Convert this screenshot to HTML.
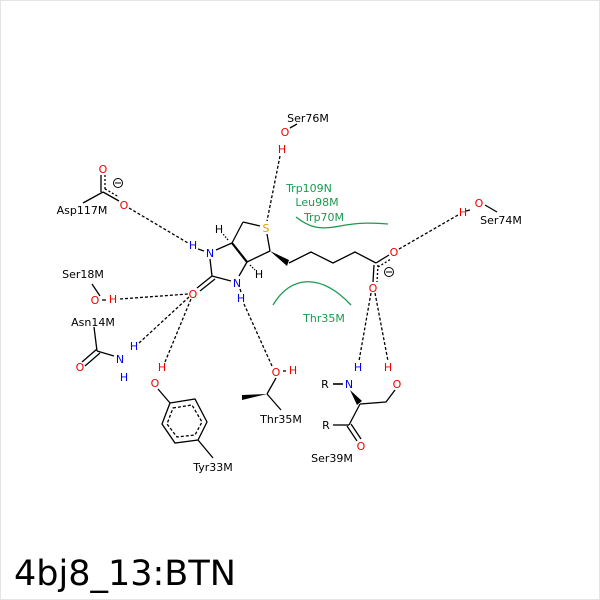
<!DOCTYPE html>
<html><head><style>
body{margin:0;background:#fff;}
svg{display:block;}
text{font-family:"DejaVu Sans","Liberation Sans",sans-serif;font-size:11px;}
</style></head><body>
<svg width="600" height="600" viewBox="0 0 600 600">
<rect x="0.5" y="0.5" width="599" height="599" fill="#fff" stroke="#e4e4e4"/>
<g stroke="#000" stroke-width="1.3" fill="none">
<g stroke-dasharray="3,2">
<line x1="280" y1="156" x2="267" y2="221"/>
<line x1="129" y1="208" x2="188" y2="243"/>
<line x1="120" y1="299" x2="188" y2="294"/>
<line x1="139" y1="343" x2="189" y2="297"/>
<line x1="165" y1="362" x2="191" y2="299"/>
<line x1="244" y1="304" x2="272" y2="366"/>
<line x1="399" y1="249" x2="458" y2="215"/>
<line x1="371" y1="293" x2="359" y2="361"/>
<line x1="375" y1="293" x2="388" y2="361"/>
</g>
<line x1="297" y1="124" x2="290" y2="128"/>
<line x1="83" y1="203" x2="103" y2="192"/>
<line x1="101" y1="175" x2="101" y2="192"/>
<line x1="105" y1="175" x2="105" y2="190" stroke-dasharray="2,2"/>
<line x1="103" y1="192" x2="119" y2="201"/>
<line x1="105" y1="189" x2="119" y2="197" stroke-dasharray="2,2"/>
<line x1="198" y1="249" x2="204" y2="251"/>
<line x1="216" y1="250" x2="232" y2="243"/>
<line x1="232" y1="243" x2="243" y2="222"/>
<line x1="243" y1="222" x2="260" y2="226"/>
<line x1="267" y1="234" x2="270" y2="251"/>
<line x1="270" y1="251" x2="247" y2="262"/>
<line x1="232" y1="243" x2="247" y2="262" stroke-width="2.2"/>
<line x1="247" y1="262" x2="239" y2="276"/>
<line x1="231" y1="281" x2="212" y2="276"/>
<line x1="212" y1="276" x2="210" y2="259"/>
<line x1="212" y1="276" x2="197" y2="288"/>
<line x1="215" y1="279" x2="200" y2="291"/>
<line x1="240" y1="289" x2="241" y2="292"/>
<line x1="228" y1="240" x2="223" y2="234" stroke-dasharray="1.5,1.5"/>
<line x1="250" y1="265" x2="255" y2="270" stroke-dasharray="1.5,1.5"/>
<polyline points="289,263 311,252 333,263 355,252 376,263"/>
<line x1="376" y1="263" x2="389" y2="255"/>
<line x1="378" y1="267" x2="391" y2="259" stroke-dasharray="2,2"/>
<line x1="374" y1="265" x2="373" y2="282"/>
<line x1="378" y1="265" x2="377" y2="282" stroke-dasharray="2,2"/>
<line x1="485" y1="205" x2="497" y2="212"/>
<line x1="466" y1="211" x2="470" y2="210"/>
<line x1="92" y1="284" x2="100" y2="296"/>
<line x1="102" y1="300" x2="106" y2="300"/>
<line x1="94" y1="327" x2="97" y2="351"/>
<line x1="97" y1="351" x2="114" y2="356"/>
<line x1="97" y1="349" x2="82" y2="362"/>
<line x1="100" y1="353" x2="85" y2="366"/>
<line x1="158" y1="389" x2="170" y2="403"/>
<polygon points="170,403 195,399 207,422 198,440 175,443 162,424"/>
<polygon points="173,408 192,405 202,422 195,435 177,437 167,424" stroke-dasharray="3,2"/>
<line x1="198" y1="440" x2="213" y2="458"/>
<line x1="276" y1="378" x2="267" y2="394"/>
<line x1="267" y1="394" x2="281" y2="410"/>
<line x1="283" y1="371" x2="286" y2="371"/>
<line x1="333" y1="384" x2="343" y2="384" stroke-width="1.6"/>
<polyline points="360,404 386,402 395,390"/>
<line x1="360" y1="404" x2="349" y2="425"/>
<line x1="333" y1="425" x2="349" y2="425"/>
<line x1="347" y1="426" x2="357" y2="441"/>
<line x1="351" y1="424" x2="361" y2="439"/>
<circle cx="118" cy="183" r="4.5" stroke-width="1"/>
<line x1="115" y1="183" x2="121" y2="183" stroke-width="1"/>
<circle cx="389" cy="272" r="4.5" stroke-width="1"/>
<line x1="386" y1="272" x2="392" y2="272" stroke-width="1"/>
<path d="M296,217 C310,228 320,230 340,226 C360,222 375,223 388,224" stroke="#1a9a50"/>
<path d="M273,305 C290,276 320,272 351,305" stroke="#1a9a50"/>
</g>
<polygon points="270,251 289,260 287,266" fill="#000"/>
<polygon points="350,390 362,401 357,405" fill="#000"/>
<polygon points="267,394 242,395 242,400" fill="#000"/>
<g text-anchor="middle">
<text x="308" y="122">Ser76M</text>
<text x="285" y="136" fill="#e00">O</text>
<text x="282" y="153" fill="#e00">H</text>
<text x="266" y="232" fill="#e0a000">S</text>
<text x="103" y="173" fill="#e00">O</text>
<text x="124" y="209" fill="#e00">O</text>
<text x="82" y="214">Asp117M</text>
<text x="193" y="249" fill="#00e">H</text>
<text x="210" y="257" fill="#00e">N</text>
<text x="219" y="233">H</text>
<text x="259" y="278">H</text>
<text x="237" y="287" fill="#00e">N</text>
<text x="241" y="302" fill="#00e">H</text>
<text x="193" y="298" fill="#e00">O</text>
<text x="394" y="256" fill="#e00">O</text>
<text x="373" y="292" fill="#e00">O</text>
<text x="463" y="216" fill="#e00">H</text>
<text x="479" y="207" fill="#e00">O</text>
<text x="501" y="224">Ser74M</text>
<text x="309" y="192" fill="#1a9a50">Trp109N</text>
<text x="317" y="206" fill="#1a9a50">Leu98M</text>
<text x="324" y="221" fill="#1a9a50">Trp70M</text>
<text x="324" y="322" fill="#1a9a50">Thr35M</text>
<text x="83" y="278">Ser18M</text>
<text x="95" y="304" fill="#e00">O</text>
<text x="113" y="303" fill="#e00">H</text>
<text x="93" y="326">Asn14M</text>
<text x="80" y="371" fill="#e00">O</text>
<text x="120" y="363" fill="#00e">N</text>
<text x="134" y="350" fill="#00e">H</text>
<text x="124" y="381" fill="#00e">H</text>
<text x="162" y="371" fill="#e00">H</text>
<text x="155" y="387" fill="#e00">O</text>
<text x="213" y="471">Tyr33M</text>
<text x="276" y="376" fill="#e00">O</text>
<text x="293" y="374" fill="#e00">H</text>
<text x="281" y="423">Thr35M</text>
<text x="358" y="371" fill="#00e">H</text>
<text x="349" y="388" fill="#00e">N</text>
<text x="325" y="388">R</text>
<text x="388" y="371" fill="#e00">H</text>
<text x="397" y="388" fill="#e00">O</text>
<text x="326" y="429">R</text>
<text x="361" y="450" fill="#e00">O</text>
<text x="332" y="462">Ser39M</text>
</g>
<text x="14" y="585" style="font-size:35px">4bj8_13:BTN</text>
</svg>
</body></html>
